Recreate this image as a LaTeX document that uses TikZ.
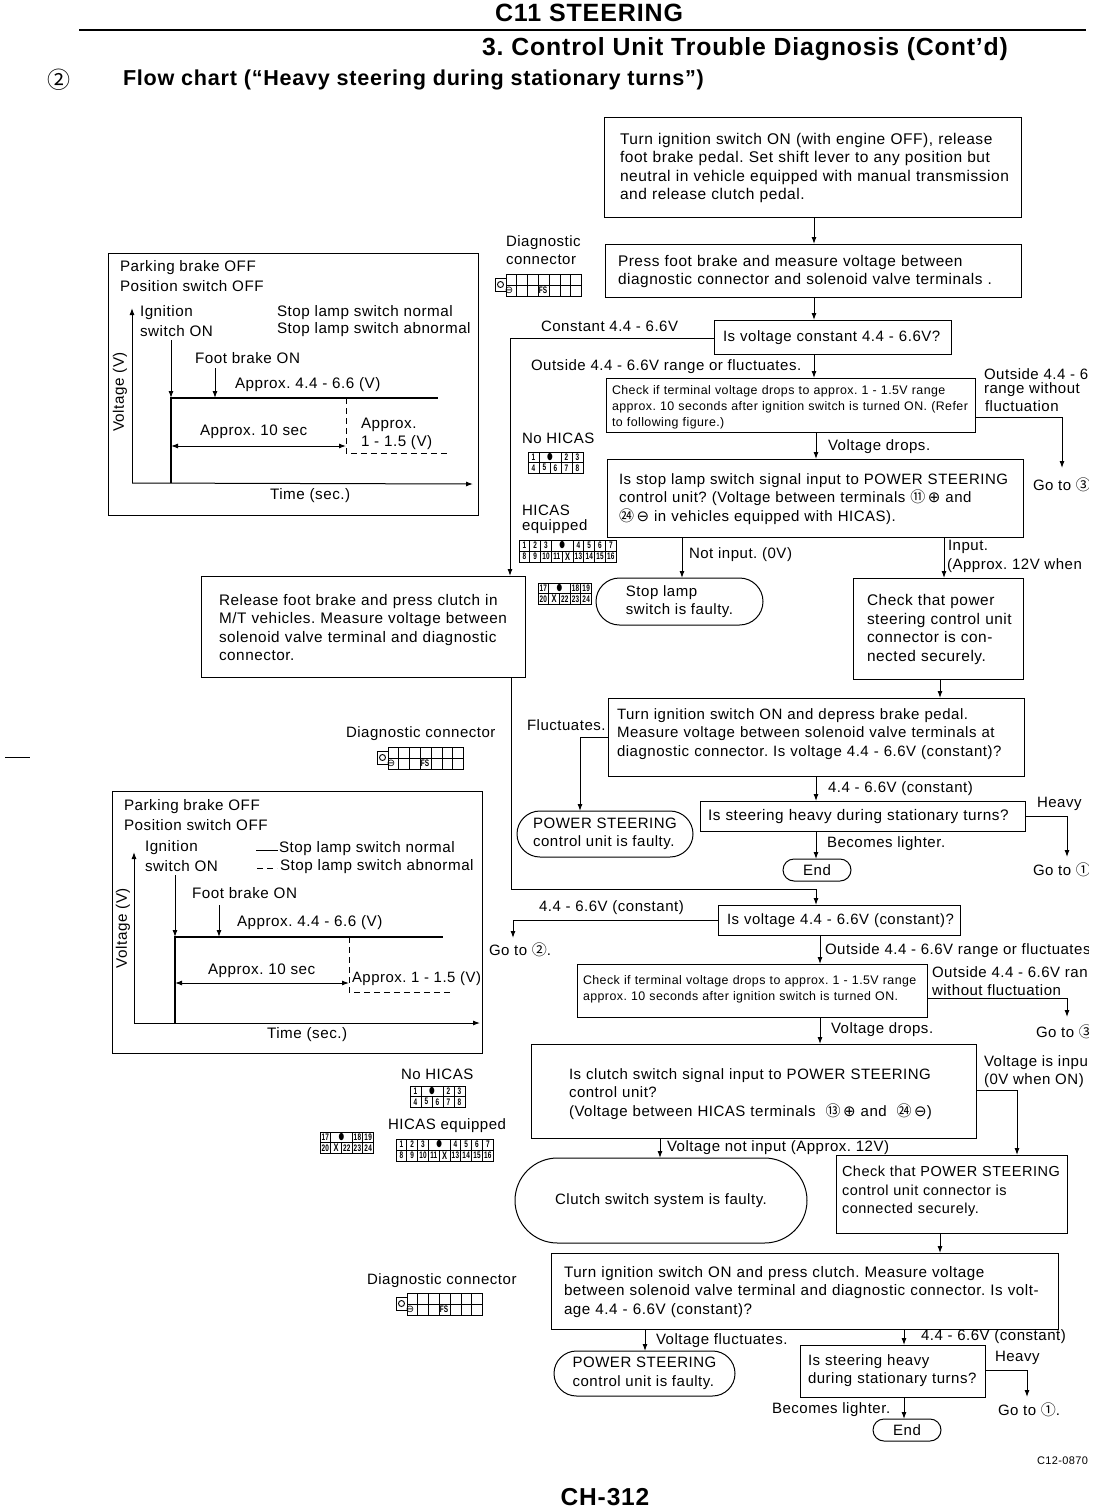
\documentclass[tikz,border=0pt]{standalone}
\usepackage{fontspec}
\setmainfont{Liberation Sans}[LetterSpace=3.5]
\newfontfamily\djv{DejaVu Sans}
\newfontfamily\cjkc{Noto Sans CJK JP}
\usetikzlibrary{arrows.meta,shapes.misc}
\frenchspacing
\newcount\cc
\newcommand\nn{\global\advance\cc by 1 }
\newcommand\cn[1]{{\cjkc #1}}
\newcommand\opl{{\djv ⊕}}
\newcommand\omn{{\djv ⊖}}
\newcommand\pd{{\djv ●}}
\newcommand\px{{\fontsize{11}{11}\selectfont X}}
\tikzset{
  base/.style={font=\fontsize{15}{18.5}\selectfont,inner sep=0pt,outer sep=0pt},
  smallbase/.style={font=\fontsize{12.4}{16}\selectfont},
  fsz/.style={font=\fontsize{#1}{18.5}\selectfont},
  boxn/.style={base,draw,line width=1pt,align=left},
  term/.style={base,draw,line width=1pt,rounded rectangle,align=left},
  labn/.style={base,anchor=west},
  graphlab/.style={font=\fontsize{15.2}{17}\selectfont},
  con/.style={line width=1pt},
  arr/.style={line width=1pt,-{Latex[length=7pt,width=5pt]}},
  dbl/.style={line width=1pt,{Latex[length=7pt,width=5pt]}-{Latex[length=7pt,width=5pt]}},
  dash1/.style={line width=1pt,dash pattern=on 6pt off 4pt},
  frame/.style={draw,line width=1pt},
  pinln/.style={line width=.9pt},
  pintx/.style={font=\bfseries\fontsize{9.5}{9.5}\selectfont,inner sep=0pt,xscale=.68,transform shape},
}
% name,x1,y1,x2,y2,text-left,text
\newcommand\bx[8][]{%
  \pgfmathsetmacro\bw{#5-#3}\pgfmathsetmacro\bh{#6-#4}\pgfmathsetmacro\bt{#5-#3-2*(#7-#3)}%
  \node[boxn,#1,minimum width=\bw pt,minimum height=\bh pt,text width=\bt pt] (#2) at ({(#3+#5)/2},{(#4+#6)/2}) {\rule{0pt}{13pt}#8};}
\newcommand\tm[7][]{%
  \pgfmathsetmacro\bw{#5-#3}\pgfmathsetmacro\bh{#6-#4}%
  \node[term,#1,minimum width=\bw pt,minimum height=\bh pt] (#2) at ({(#3+#5)/2},{(#4+#6)/2}) {#7};}
\newcommand\lab[4][]{\nn\node[labn,yshift=-1pt,#1] (lab\the\cc) at (#2,#3) {#4};}
\newcommand\pinrow[5]{%
  \foreach \txt/\ca/\cb in {#5}{%
    \nn
    \draw[pinln] ({#1+\ca*#3},{#2}) rectangle ({#1+\cb*#3},{#2+#4});
    \node[pintx,name=pc\the\cc] at ({#1+(\ca+\cb)/2*#3},{#2+#4/2}) {\txt};
  }}
\newcommand\pinA[2]{% No HICAS
  \pinrow{#1}{#2}{11}{10.5}{1/0/1,\pd/1/3,2/3/4,3/4/5}
  \pinrow{#1}{#2+10.5}{11}{10.5}{4/0/1,5/1/2,6/2/3,7/3/4,8/4/5}}
\newcommand\pinB[2]{% HICAS 1-16
  \pinrow{#1}{#2}{10.8}{11}{1/0/1,2/1/2,3/2/3,\pd/3/5,4/5/6,5/6/7,6/7/8,7/8/9}
  \pinrow{#1}{#2+11}{10.8}{11}{8/0/1,9/1/2,10/2/3,11/3/4,\px/4/5,13/5/6,14/6/7,15/7/8,16/8/9}}
\newcommand\pinC[2]{% HICAS 17-24
  \pinrow{#1}{#2}{10.7}{10.5}{17/0/1,\pd/1/3,18/3/4,19/4/5}
  \pinrow{#1}{#2+10.5}{10.7}{10.5}{20/0/1,\px/1/2,22/2/3,23/3/4,24/4/5}}
\newcommand\diag[2]{%
  \draw[pinln] ({#1-11},{#2+4}) rectangle ({#1},{#2+17});
  \draw[pinln] ({#1-5.5},{#2+10.5}) circle (3);
  \foreach \k in {0,...,7}{\draw[pinln] ({#1+\k*10.8},{#2}) -- ({#1+\k*10.8},{#2+22});}
  \foreach \k in {0,1,2}{\draw[pinln] ({#1},{#2+\k*11}) -- ({#1+7*10.8},{#2+\k*11});}
  \nn\node[inner sep=0pt,font=\djv\fontsize{10}{10}\selectfont] (dg\the\cc) at ({#1+3},{#2+16.5}) {⊖};
  \nn\node[pintx] (dg\the\cc) at ({#1+37},{#2+16.5}) {FS};}
\begin{document}
\begin{tikzpicture}[x=1pt,y=-1pt]
\useasboundingbox (0,0) rectangle (1094,1510);
\fill[white] (0,0) rectangle (1094,1510);
\begin{scope}
\clip (0,0) rectangle (1088,1510);
% ---------- heading
\node[base,font=\bfseries\fontsize{25}{30}\selectfont] (h1) at (589,13) {C11 STEERING};
\draw[line width=2.6pt] (79,30) -- (1086,30);
\node[base,font=\bfseries\fontsize{24.8}{30}\selectfont] (h2) at (745,49) {3. Control Unit Trouble Diagnosis (Cont'd)};
\node[base,font=\cjkc\fontsize{23}{24}\selectfont] (h3a) at (59,80) {②};
\node[base,anchor=west,font=\bfseries\fontsize{21.6}{26}\selectfont] (h3) at (123,80) {Flow chart (``Heavy steering during stationary turns'')};
\draw[line width=1pt] (5,757) -- (30,757);
% ---------- right column boxes, upper flow
\bx[fsz=15.5]{t1}{604}{117}{1021}{217}{620}{\mbox{Turn ignition switch ON (with engine OFF), release}\\\mbox{foot brake pedal. Set shift lever to any position but}\\\mbox{neutral in vehicle equipped with manual transmission}\\\mbox{and release clutch pedal.}}
\bx[fsz=15.4]{press}{605}{244}{1021}{297}{618}{\mbox{Press foot brake and measure voltage between}\\\mbox{diagnostic connector and solenoid valve terminals .}}
\bx{q1}{714}{320}{951}{354}{723}{\mbox{Is voltage constant 4.4 - 6.6V?}}
\bx[smallbase]{chk1}{606}{378}{975}{432}{612}{\mbox{Check if terminal voltage drops to approx. 1 - 1.5V range}\\\mbox{approx. 10 seconds after ignition switch is turned ON. (Refer}\\\mbox{to following figure.)}}
\bx{stop}{607}{459}{1023}{537}{619}{\mbox{Is stop lamp switch signal input to POWER STEERING}\\\mbox{control unit? (Voltage between terminals \cn{⑪}\,\opl\ and}\\\mbox{\cn{㉔}\,\omn\ in vehicles equipped with HICAS).}}
\tm{slamp}{596}{578}{763}{625}{Stop lamp\\switch is faulty.}
\bx[fsz=15.4]{chkp}{853}{578}{1023}{679}{867}{\mbox{Check that power}\\\mbox{steering control unit}\\\mbox{connector is con-}\\\mbox{nected securely.}}
\bx[fsz=15.3]{rel}{201}{576}{525}{677}{219}{\mbox{Release foot brake and press clutch in}\\\mbox{M/T vehicles. Measure voltage between}\\\mbox{solenoid valve terminal and diagnostic}\\\mbox{connector.}}
\bx{t2}{608}{698}{1024}{776}{617}{\mbox{Turn ignition switch ON and depress brake pedal.}\\\mbox{Measure voltage between solenoid valve terminals at}\\\mbox{diagnostic connector. Is voltage 4.4 - 6.6V (constant)?}\vspace{8pt}}
\tm{psf1}{517}{811}{693}{857}{POWER STEERING\\control unit is faulty.}
\bx[fsz=15.3]{heavy1}{700}{801}{1025}{831}{708}{\mbox{Is steering heavy during stationary turns?}}
\tm{end1}{783}{859}{851}{881}{End}
% ---------- lower flow
\bx[fsz=14.9]{q2}{718}{905}{960}{935}{727}{\mbox{Is voltage 4.4 - 6.6V (constant)?}}
\bx[smallbase]{chk2}{577}{964}{927}{1017}{583}{\mbox{Check if terminal voltage drops to approx. 1 - 1.5V range}\\\mbox{approx. 10 seconds after ignition switch is turned ON.}\vspace{6pt}}
\bx{clutch}{531}{1044}{976}{1138}{569}{\rule{0pt}{17pt}\mbox{Is clutch switch signal input to POWER STEERING}\\\mbox{control unit?}\\\mbox{(Voltage between HICAS terminals \ \cn{⑬}\,\opl\ and \ \cn{㉔}\,\omn)}}
\tm{cfault}{515}{1158}{807}{1243}{Clutch switch system is faulty.}
\bx[fsz=14.5]{chkq}{836}{1155}{1067}{1233}{842}{\mbox{Check that POWER STEERING}\\\mbox{control unit connector is}\\\mbox{connected securely.}\vspace{8pt}}
\bx[fsz=15.2]{t3}{551}{1253}{1058}{1329}{564}{\mbox{Turn ignition switch ON and press clutch. Measure voltage}\\\mbox{between solenoid valve terminal and diagnostic connector. Is volt-}\\\mbox{age 4.4 - 6.6V (constant)?}}
\tm{psf2}{554}{1351}{735}{1396}{POWER STEERING\\control unit is faulty.}
\bx{heavy2}{800}{1345}{985}{1397}{808}{\mbox{Is steering heavy}\\\mbox{during stationary turns?}\vspace{3pt}}
\tm{end2}{873}{1419}{941}{1441}{End}
% ---------- coordinates for connectors
\coordinate (v814) at (814,0);
\coordinate (v816) at (816,0);
\coordinate (v820) at (820,0);
\coordinate (v510) at (510,0);
\coordinate (v682) at (682,0);
\coordinate (v944) at (944,0);
\coordinate (v940) at (940,0);
\coordinate (v660) at (660,0);
\coordinate (v645) at (645,0);
\coordinate (v904) at (904,0);
\coordinate (v580) at (580,0);
\coordinate (e1) at (1062,417);
\coordinate (e1end) at (1062,468);
\coordinate (e2) at (580,737);
\coordinate (e3) at (1067,816);
\coordinate (e3end) at (1067,857);
\coordinate (e4) at (510,338);
\coordinate (e5a) at (511,889);
\coordinate (e5b) at (816,889);
\coordinate (e6) at (513,920);
\coordinate (e6end) at (513,938);
\coordinate (e7) at (1067,998);
\coordinate (e7end) at (1067,1017);
\coordinate (e8) at (1017,1090);
\coordinate (e9) at (1027,1370);
\coordinate (e9end) at (1027,1397);
\coordinate (e5s) at (511,677);
% ---------- connectors
\draw[arr] (t1.south -| v814) -- (press.north -| v814);
\draw[arr] (press.south -| v814) -- (q1.north -| v814);
\draw[arr] (q1.south -| v814) -- (chk1.north -| v814);
\draw[arr] (q1.west |- e4) -- (e4) -- (rel.north -| e4);
\draw[arr] (chk1.south -| v816) -- (stop.north -| v816);
\draw[arr] (chk1.east |- e1) -- (e1) -- (e1end);
\draw[arr] (stop.south -| v682) -- (slamp.north -| v682);
\draw[arr] (stop.south -| v944) -- (chkp.north -| v944);
\draw[arr] (chkp.south -| v940) -- (t2.north -| v940);
\draw[arr] (t2.west |- e2) -- (e2) -- (psf1.north -| v580);
\draw[arr] (t2.south -| v816) -- (heavy1.north -| v816);
\draw[arr] (heavy1.south -| v816) -- (end1.north -| v816);
\draw[arr] (heavy1.east |- e3) -- (e3) -- (e3end);
\draw[arr] (e5s) -- (e5a) -- (e5b) -- (q2.north -| e5b);
\draw[arr] (q2.west |- e6) -- (e6) -- (e6end);
\draw[arr] (q2.south -| v820) -- (chk2.north -| v820);
\draw[arr] (chk2.east |- e7) -- (e7) -- (e7end);
\draw[arr] (chk2.south -| v820) -- (clutch.north -| v820);
\draw[arr] (clutch.south -| v660) -- (cfault.north -| v660);
\draw[arr] (clutch.east |- e8) -- (e8) -- (chkq.north -| e8);
\draw[arr] (chkq.south -| v940) -- (t3.north -| v940);
\draw[arr] (t3.south -| v645) -- (psf2.north -| v645);
\draw[arr] (t3.south -| v904) -- (heavy2.north -| v904);
\draw[arr] (heavy2.south -| v904) -- (end2.north -| v904);
\draw[arr] (heavy2.east |- e9) -- (e9) -- (e9end);
% ---------- connector labels
\lab{541}{325}{Constant 4.4 - 6.6V}
\lab{531}{366}{Outside 4.4 - 6.6V range or fluctuates.}
\lab{984}{373}{Outside 4.4 - 6}
\lab{984}{389}{range without}
\lab{985}{405}{fluctuation}
\lab{828}{446}{Voltage drops.}
\lab{1033}{484}{Go to \cn{③}}
\lab{689}{554}{Not input. (0V)}
\lab{948}{546}{Input.}
\lab{947}{565}{(Approx. 12V when}
\lab{527}{724}{Fluctuates.}
\lab{828}{788}{4.4 - 6.6V (constant)}
\lab{1037}{803}{Heavy}
\lab{827}{843}{Becomes lighter.}
\lab{1033}{869}{Go to \cn{①}}
\lab{539}{907}{4.4 - 6.6V (constant)}
\lab{489}{949}{Go to \cn{②}.}
\lab{825}{950}{Outside 4.4 - 6.6V range or fluctuates}
\lab{932}{971}{Outside 4.4 - 6.6V ran}
\lab{932}{989}{without fluctuation}
\lab{1036}{1031}{Go to \cn{③}}
\lab{831}{1029}{Voltage drops.}
\lab{984}{1062}{Voltage is inpu}
\lab{984}{1080}{(0V when ON)}
\lab{667}{1147}{Voltage not input (Approx. 12V)}
\lab{656}{1340}{Voltage fluctuates.}
\lab{921}{1336}{4.4 - 6.6V (constant)}
\lab{995}{1357}{Heavy}
\lab{772}{1409}{Becomes lighter.}
\lab{998}{1409}{Go to \cn{①}.}
\lab[font=\fontsize{11}{12}\selectfont]{1037}{1460}{C12-0870}
\node[base,font=\bfseries\fontsize{24.5}{30}\selectfont] (pg) at (605,1497) {CH-312};
% ---------- connector legends, upper
\lab{506}{242}{Diagnostic}
\lab{506}{259}{connector}
\diag{506}{274}
\lab{522}{437}{No HICAS}
\pinA{528}{452}
\lab{522}{509}{HICAS}
\lab{522}{526}{equipped}
\pinB{519}{540}
\pinC{538}{583}
% ---------- connector legends, lower
\lab{346}{733}{Diagnostic connector}
\diag{388}{747}
\lab{401}{1073}{No HICAS}
\pinA{410}{1086}
\lab{388}{1125}{HICAS equipped}
\pinB{396}{1139}
\pinC{320}{1132}
\lab{367}{1280}{Diagnostic connector}
\diag{407}{1293}
% ---------- graph 1
\draw[frame] (108,253) rectangle (478,515);
\lab[graphlab]{120}{267}{Parking brake OFF}
\lab[graphlab]{120}{285}{Position switch OFF}
\lab[graphlab]{140}{312}{Ignition}
\lab[graphlab]{140}{330}{switch ON}
\lab[graphlab]{277}{312}{Stop lamp switch normal}
\lab[graphlab]{277}{329}{Stop lamp switch abnormal}
\lab[graphlab]{195}{357}{Foot brake ON}
\lab[graphlab]{235}{384}{Approx. 4.4 - 6.6 (V)}
\lab[graphlab]{200}{431}{Approx. 10 sec}
\lab[graphlab]{361}{424}{Approx.}
\lab[graphlab]{361}{442}{1 - 1.5 (V)}
\lab[graphlab]{270}{495}{Time (sec.)}
\nn\node[base,graphlab,rotate=90] (vl\the\cc) at (120,392) {Voltage (V)};
\coordinate (g1o) at (132,483);
\coordinate (g1y) at (132,308);
\coordinate (g1x) at (473,484);
\coordinate (g1i) at (171,483);
\coordinate (g1t) at (171,398);
\coordinate (g1e) at (438,398);
\coordinate (g1ia) at (171,340);
\coordinate (g1fa) at (215,368);
\coordinate (g1fb) at (215,398);
\coordinate (g1d) at (346,398);
\coordinate (g1dl) at (346,453);
\coordinate (g1de) at (447,453);
\coordinate (g1al) at (171,446);
\coordinate (g1ar) at (346,446);
\draw[arr] (g1o) -- (g1y);
\draw[arr] (g1o) -- (g1x);
\draw[line width=1.2pt] (g1i) -- (g1t) -- (g1e);
\draw[arr] (g1ia) -- (g1t);
\draw[arr] (g1fa) -- (g1fb);
\draw[dash1] (g1d) -- (g1dl) -- (g1de);
\draw[dbl] (g1al) -- (g1ar);
% ---------- graph 2
\draw[frame] (112,791) rectangle (482,1053);
\lab[graphlab]{124}{806}{Parking brake OFF}
\lab[graphlab]{124}{824}{Position switch OFF}
\lab[graphlab]{145}{847}{Ignition}
\lab[graphlab]{145}{865}{switch ON}
\lab[graphlab]{279}{848}{Stop lamp switch normal}
\lab[graphlab]{280}{866}{Stop lamp switch abnormal}
\lab[graphlab]{192}{892}{Foot brake ON}
\lab[graphlab]{237}{922}{Approx. 4.4 - 6.6 (V)}
\lab[graphlab]{208}{970}{Approx. 10 sec}
\lab[font=\fontsize{14.9}{17}\selectfont]{352}{978}{Approx. 1 - 1.5 (V)}
\lab[graphlab]{267}{1034}{Time (sec.)}
\nn\node[base,graphlab,rotate=90] (vl\the\cc) at (123,928) {Voltage (V)};
\coordinate (g2o) at (134,1023);
\coordinate (g2y) at (134,852);
\coordinate (g2x) at (480,1023);
\coordinate (g2i) at (175,1023);
\coordinate (g2t) at (175,937);
\coordinate (g2e) at (443,937);
\coordinate (g2ia) at (175,875);
\coordinate (g2fa) at (219,905);
\coordinate (g2fb) at (219,937);
\coordinate (g2d) at (349,937);
\coordinate (g2dl) at (349,992);
\coordinate (g2de) at (450,992);
\coordinate (g2al) at (175,983);
\coordinate (g2ar) at (349,983);
\coordinate (k1a) at (256,850);
\coordinate (k1b) at (278,850);
\coordinate (k2a) at (257,868);
\coordinate (k2b) at (277,868);
\draw[arr] (g2o) -- (g2y);
\draw[arr] (g2o) -- (g2x);
\draw[line width=1.2pt] (g2i) -- (g2t) -- (g2e);
\draw[arr] (g2ia) -- (g2t);
\draw[arr] (g2fa) -- (g2fb);
\draw[dash1] (g2d) -- (g2dl) -- (g2de);
\draw[dbl] (g2al) -- (g2ar);
\draw[con] (k1a) -- (k1b);
\draw[dash1] (k2a) -- (k2b);
\end{scope}
\end{tikzpicture}
\end{document}
